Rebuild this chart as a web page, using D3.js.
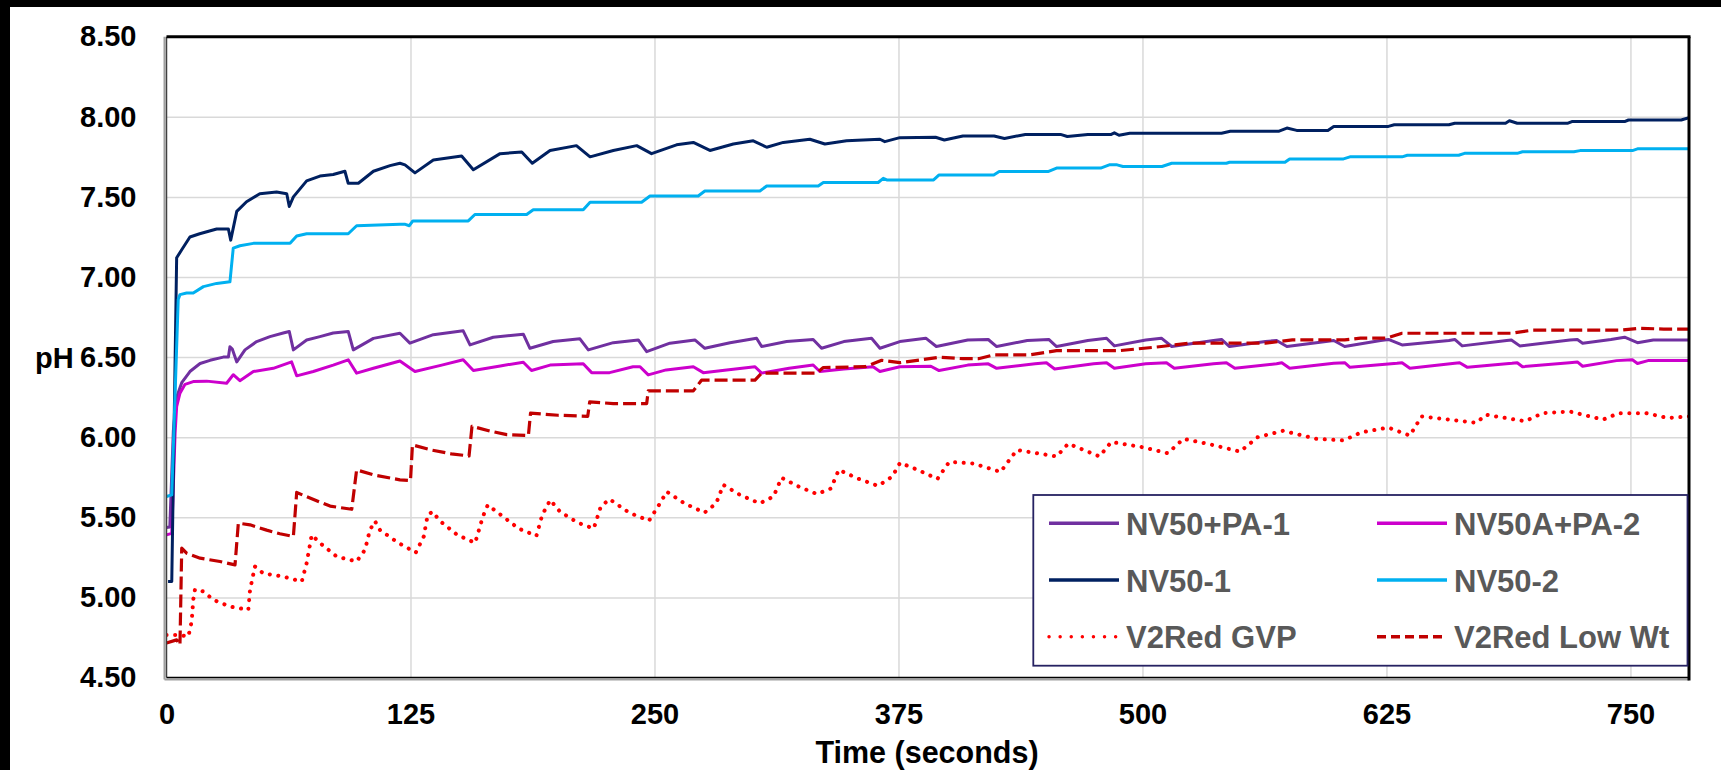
<!DOCTYPE html>
<html>
<head>
<meta charset="utf-8">
<script src="https://cdn.jsdelivr.net/npm/d3@7"></script>
<style>
  html, body { margin: 0; padding: 0; background: #fff; }
  svg { display: block; }
  text { font-family: "Liberation Sans", Arial, sans-serif; font-weight: bold; }
</style>
</head>
<body>
<svg id="chart" width="1721" height="770"></svg>
<script>
// ---------------- DATA ----------------
const xTicks = [0, 125, 250, 375, 500, 625, 750];
const yTicks = [4.5, 5.0, 5.5, 6.0, 6.5, 7.0, 7.5, 8.0, 8.5];
const seriesNames = ["NV50+PA-1", "NV50A+PA-2", "NV50-1", "NV50-2", "V2Red GVP", "V2Red Low Wt"];

// [time (s), pH]
const nv50pa1 = [
[0,5.436],[1.7,5.44],[3.5,6.04],[5.2,6.25],[7.8,6.34],[12,6.41],[17.2,6.46],[22.3,6.48],[29.1,6.50],[31.7,6.50],[32.5,6.565],[33.7,6.55],[36,6.47],[40.2,6.545],[46.2,6.597],[53,6.628],[59.8,6.65],[62.9,6.66],[65,6.545],[71.8,6.607],[78.6,6.628],[85.4,6.65],[93.1,6.66],[95.7,6.545],[106,6.617],[119.6,6.649],[124.7,6.587],[136.7,6.64],[152,6.664],[155.5,6.576],[167.4,6.624],[182.8,6.643],[186.2,6.555],[198.1,6.597],[211.8,6.614],[216.1,6.545],[228.9,6.59],[241.7,6.607],[246,6.534],[257.9,6.587],[270.7,6.607],[275.8,6.555],[288.7,6.59],[302.3,6.618],[304.9,6.566],[317.7,6.597],[331.3,6.61],[335.6,6.555],[347,6.597],[361.2,6.618],[365.5,6.555],[375.7,6.597],[389,6.618],[394.4,6.566],[410.5,6.607],[421,6.61],[425.3,6.566],[441,6.604],[452,6.61],[456,6.566],[472,6.604],[481.6,6.618],[485.6,6.57],[501.7,6.607],[509.7,6.618],[515,6.566],[536.4,6.604],[540.5,6.61],[544.6,6.566],[563,6.597],[568.7,6.604],[574,6.566],[598,6.604],[603.6,6.566],[622,6.604],[626,6.61],[633,6.576],[657,6.604],[660,6.61],[663.8,6.57],[686.6,6.604],[689,6.607],[693.3,6.57],[719,6.607],[722.8,6.61],[725.5,6.587],[740,6.61],[747,6.624],[753.6,6.59],[761.7,6.607],[780,6.607]
];
const nv50apa2 = [
[0,5.39],[2.7,5.40],[4.4,6.025],[5.2,6.19],[6.9,6.275],[9.5,6.33],[13.7,6.347],[20.6,6.35],[30.8,6.337],[34.2,6.39],[37.6,6.353],[44.5,6.41],[54.7,6.43],[64.1,6.47],[66.7,6.383],[75.2,6.41],[85.4,6.45],[93.1,6.483],[97.4,6.40],[106,6.43],[119.6,6.476],[127.3,6.41],[141,6.45],[152,6.483],[157.2,6.416],[171,6.445],[182.8,6.468],[187,6.416],[196.5,6.45],[213.5,6.458],[217.8,6.403],[227,6.403],[239,6.44],[242.6,6.44],[246.8,6.389],[256,6.42],[269.9,6.44],[275,6.403],[287,6.42],[301.5,6.44],[304.9,6.40],[319,6.43],[331.3,6.451],[334.7,6.41],[347,6.425],[362,6.44],[365.5,6.41],[375.7,6.44],[391.6,6.443],[395.8,6.416],[410.5,6.45],[421,6.458],[425.3,6.43],[445,6.458],[450.8,6.465],[455,6.426],[475,6.458],[481.6,6.465],[485.6,6.43],[501.7,6.458],[512.3,6.465],[516.3,6.43],[536.4,6.458],[543,6.465],[547.3,6.43],[568.7,6.458],[571.4,6.465],[575.4,6.43],[598,6.461],[603.6,6.465],[606.3,6.436],[630.4,6.461],[633,6.465],[637,6.43],[660,6.461],[662.5,6.465],[666.5,6.436],[689.3,6.461],[692,6.465],[694.7,6.44],[718.8,6.465],[722.8,6.47],[725.5,6.443],[742.9,6.478],[751,6.483],[753.6,6.46],[759,6.478],[780,6.478]
];
const nv50_1 = [
[0.8,5.10],[2.7,5.10],[5.2,7.12],[7.8,7.17],[12,7.25],[17,7.27],[25.7,7.30],[31.7,7.30],[32.9,7.23],[36,7.41],[41,7.47],[47.8,7.52],[56.4,7.53],[61.6,7.52],[62.9,7.44],[65,7.50],[71.8,7.60],[78.6,7.63],[85.4,7.64],[91.4,7.66],[93.1,7.585],[98.3,7.585],[106,7.66],[114.5,7.695],[119.6,7.71],[122.2,7.70],[127.3,7.65],[136.7,7.73],[151.2,7.755],[157.2,7.67],[170.9,7.77],[182,7.78],[187.4,7.71],[196.5,7.79],[210,7.82],[217,7.75],[228.9,7.79],[240.9,7.82],[248.5,7.77],[261.3,7.825],[269.9,7.84],[278.4,7.79],[290.4,7.83],[300.6,7.85],[307.5,7.81],[316,7.84],[329.6,7.86],[337.3,7.83],[348.4,7.85],[365.5,7.86],[368,7.845],[375.7,7.87],[394,7.872],[398.5,7.855],[408,7.88],[424,7.88],[429.3,7.865],[440,7.89],[458,7.89],[461.5,7.877],[472,7.89],[484,7.89],[485.6,7.90],[488,7.885],[493.5,7.897],[540.5,7.897],[545,7.91],[570,7.91],[574,7.93],[579,7.915],[595,7.915],[598,7.94],[626,7.94],[629,7.95],[657,7.95],[660,7.96],[686,7.96],[688,7.975],[692,7.96],[718,7.96],[720,7.97],[747,7.97],[749,7.98],[776,7.98],[780,7.995]
];
const nv50_2 = [
[0,5.63],[2.7,5.64],[6,6.86],[6.9,6.89],[10.3,6.90],[13.7,6.90],[18.9,6.94],[25.7,6.96],[32.5,6.97],[34.2,7.18],[37.6,7.195],[44.5,7.21],[63.3,7.21],[66.7,7.256],[71.8,7.27],[93.1,7.27],[97.4,7.32],[119.6,7.33],[122,7.33],[124.4,7.32],[126.2,7.35],[154.6,7.35],[158,7.39],[184.5,7.39],[187.9,7.42],[213.5,7.42],[217,7.467],[243.4,7.467],[247.7,7.506],[272.4,7.506],[275.8,7.537],[304,7.537],[307.5,7.568],[333.9,7.568],[336.5,7.59],[364.6,7.59],[367.2,7.616],[369,7.606],[393,7.606],[395.8,7.637],[423.8,7.637],[426.6,7.658],[451.6,7.658],[456,7.68],[478.6,7.68],[483,7.70],[487,7.70],[490,7.69],[510,7.69],[515,7.71],[543,7.71],[544.6,7.716],[573,7.716],[575.4,7.737],[603,7.737],[606.3,7.75],[633,7.75],[635.7,7.76],[662,7.76],[665,7.772],[692,7.772],[694.7,7.782],[721,7.782],[724.2,7.789],[751,7.789],[753.6,7.80],[780,7.80]
];
const v2redGVP = [
[0,4.765],[6.9,4.765],[11.2,4.756],[12.9,4.85],[13.7,4.985],[14.6,5.05],[18.9,5.037],[24,4.985],[32.5,4.943],[41.9,4.922],[42.8,5.047],[45.3,5.193],[49.6,5.15],[59.8,5.13],[69.3,5.099],[71.8,5.214],[74.4,5.39],[78.6,5.34],[87.2,5.255],[97.4,5.224],[101.7,5.297],[104.2,5.42],[106.8,5.476],[109.4,5.42],[118.8,5.34],[127.7,5.28],[131.8,5.38],[133.8,5.515],[136.4,5.535],[139.9,5.479],[149,5.39],[158.1,5.34],[162.1,5.505],[164.6,5.577],[171.3,5.515],[180.4,5.43],[189.5,5.384],[192.5,5.515],[196.6,5.608],[201.6,5.535],[210.7,5.466],[218.9,5.43],[222.5,5.567],[227,5.613],[237,5.529],[247.2,5.479],[252.3,5.577],[256.3,5.66],[265.4,5.587],[275.6,5.529],[281.6,5.587],[285.3,5.702],[293.8,5.64],[303.9,5.587],[311,5.63],[315.1,5.747],[324.2,5.69],[333.3,5.645],[340.4,5.68],[344.4,5.796],[354.6,5.74],[364.6,5.696],[371.8,5.754],[375.8,5.84],[384.9,5.796],[395,5.74],[401,5.846],[413.3,5.836],[427.4,5.783],[429.5,5.82],[435.6,5.92],[446,5.90],[456,5.88],[462,5.96],[478,5.88],[484,5.97],[499,5.94],[513,5.90],[521,5.99],[533,5.96],[550,5.91],[559,6.00],[572,6.04],[589,5.99],[603,5.98],[612,6.03],[626,6.06],[637,6.01],[643,6.13],[657,6.11],[671,6.09],[676,6.14],[696,6.10],[705,6.15],[719,6.16],[736,6.11],[744,6.15],[758,6.15],[769,6.12],[780,6.13]
];
const v2redLowWt = [
[0,4.715],[5.2,4.735],[6.9,4.704],[7.8,5.307],[10.3,5.276],[17.2,5.245],[27.4,5.224],[35.1,5.203],[36.8,5.463],[42.8,5.453],[51.3,5.42],[58.1,5.397],[65,5.38],[66.7,5.655],[73.5,5.62],[83.8,5.57],[94.9,5.55],[97.4,5.796],[106,5.765],[119.6,5.734],[125,5.73],[126,5.952],[135.8,5.92],[145.9,5.896],[155,5.883],[156.5,6.068],[166.2,6.037],[174.3,6.016],[185.4,6.01],[186.5,6.15],[200.6,6.137],[215.8,6.13],[216.8,6.22],[228.9,6.21],[246,6.21],[246.8,6.289],[269.9,6.289],[274.1,6.356],[301.5,6.356],[304.9,6.40],[333,6.40],[336.5,6.435],[358,6.44],[366.4,6.48],[375.7,6.465],[395.8,6.499],[408,6.49],[416,6.49],[424,6.514],[442,6.514],[456,6.54],[488,6.54],[509.7,6.566],[524,6.587],[563,6.587],[576.8,6.607],[603.6,6.607],[611.7,6.618],[625,6.618],[633,6.649],[689.3,6.649],[700,6.669],[745.6,6.669],[755,6.68],[767,6.675],[780,6.675]
];
const seriesValues = [nv50pa1, nv50apa2, nv50_1, nv50_2, v2redGVP, v2redLowWt];

// ---------------- STYLE ----------------
const seriesStyle = [
  { color: "#7030A0", dash: null, width: 3 },
  { color: "#CC00CC", dash: null, width: 3 },
  { color: "#002060", dash: null, width: 3 },
  { color: "#00B0F0", dash: null, width: 3 },
  { color: "#FF0000", dash: "0.1,8.5", legendDash: "0.1,11", cap: "round", width: 4 },
  { color: "#C00000", dash: "13,5", legendDash: "9,5", cap: "butt", width: 3.2 }
];

const W = 1721, H = 770;
const plot = { left: 166.5, right: 1689, top: 36.7, bottom: 677.5 };
const svg = d3.select("#chart");

// outer frame bands
svg.append("rect").attr("x", 0).attr("y", 0).attr("width", W).attr("height", 7).attr("fill", "#000");
svg.append("rect").attr("x", 0).attr("y", 0).attr("width", 10).attr("height", H).attr("fill", "#000");

const x = d3.scaleLinear().domain([0, 780]).range([plot.left, plot.right]);
const y = d3.scaleLinear().domain([4.5, 8.5]).range([plot.bottom, plot.top]);
const pw = plot.right - plot.left, ph = plot.bottom - plot.top;

// grid
const gx = svg.append("g").attr("transform", `translate(0,${plot.bottom})`)
  .call(d3.axisBottom(x).tickValues(xTicks.filter(d => d > 0)).tickSize(-ph).tickFormat(""));
gx.select(".domain").remove();
gx.selectAll("line").attr("stroke", "#D9D9D9").attr("stroke-width", 1.5);
const gy = svg.append("g").attr("transform", `translate(${plot.left},0)`)
  .call(d3.axisLeft(y).tickValues(yTicks.filter(d => d > 4.5 && d < 8.5)).tickSize(-pw).tickFormat(""));
gy.select(".domain").remove();
gy.selectAll("line").attr("stroke", "#D9D9D9").attr("stroke-width", 1.5);

// series
const line = d3.line().x(d => x(d[0])).y(d => y(d[1]));
svg.append("clipPath").attr("id", "clip").append("rect")
  .attr("x", plot.left).attr("y", plot.top).attr("width", pw).attr("height", ph);
const gLines = svg.append("g").attr("clip-path", "url(#clip)");
seriesValues.forEach((vals, i) => {
  const st = seriesStyle[i];
  gLines.append("path").datum(vals).attr("d", line)
    .attr("fill", "none").attr("stroke", st.color).attr("stroke-width", st.width)
    .attr("stroke-linejoin", "round")
    .attr("stroke-linecap", st.cap || "butt")
    .attr("stroke-dasharray", st.dash);
});

// plot border
svg.append("line").attr("x1", plot.left - 2).attr("x2", plot.left - 2).attr("y1", plot.top).attr("y2", plot.bottom + 2)
  .attr("stroke", "#A0A0A0").attr("stroke-width", 2);
svg.append("line").attr("x1", plot.left - 2).attr("x2", plot.right).attr("y1", plot.bottom + 2).attr("y2", plot.bottom + 2)
  .attr("stroke", "#A0A0A0").attr("stroke-width", 2);
svg.append("line").attr("x1", plot.left).attr("x2", plot.left).attr("y1", plot.top).attr("y2", plot.bottom)
  .attr("stroke", "#404040").attr("stroke-width", 1.5);
svg.append("line").attr("x1", plot.left).attr("x2", plot.right).attr("y1", plot.bottom).attr("y2", plot.bottom)
  .attr("stroke", "#000").attr("stroke-width", 1.5);
svg.append("line").attr("x1", plot.left).attr("x2", plot.right + 1.5).attr("y1", plot.top).attr("y2", plot.top)
  .attr("stroke", "#000").attr("stroke-width", 3);
svg.append("line").attr("x1", plot.right).attr("x2", plot.right).attr("y1", plot.top).attr("y2", plot.bottom + 3)
  .attr("stroke", "#000").attr("stroke-width", 3);

// axes labels
const ay = svg.append("g").attr("transform", `translate(${plot.left},0)`)
  .call(d3.axisLeft(y).tickValues(yTicks).tickSize(0).tickPadding(30).tickFormat(d => d.toFixed(2)));
ay.select(".domain").remove();
ay.selectAll("text").attr("font-size", 29).attr("fill", "#000")
  .attr("font-family", '"Liberation Sans", Arial, sans-serif').attr("font-weight", "bold");

const ax = svg.append("g").attr("transform", `translate(0,${plot.bottom})`)
  .call(d3.axisBottom(x).tickValues(xTicks).tickSize(0).tickPadding(25.5).tickFormat(d3.format("d")));
ax.select(".domain").remove();
ax.selectAll("text").attr("font-size", 29).attr("fill", "#000")
  .attr("font-family", '"Liberation Sans", Arial, sans-serif').attr("font-weight", "bold");

svg.append("text").attr("x", 927).attr("y", 763).attr("text-anchor", "middle")
  .attr("font-size", 30.5).attr("fill", "#000").text("Time (seconds)");
svg.append("text").attr("x", 35).attr("y", y(6.5) + 10.5).attr("text-anchor", "start")
  .attr("font-size", 29).attr("fill", "#000").text("pH");

// legend
const lg = { x0: 1033.3, y0: 495, x1: 1687.5, y1: 665.7 };
svg.append("rect").attr("x", lg.x0).attr("y", lg.y0).attr("width", lg.x1 - lg.x0).attr("height", lg.y1 - lg.y0)
  .attr("fill", "#fff").attr("stroke", "#262262").attr("stroke-width", 1.8);
const rowY = [523.3, 580, 636.7];
const colX = [1049, 1377];
seriesNames.forEach((name, i) => {
  const col = i % 2, row = Math.floor(i / 2);
  const st = seriesStyle[i];
  const lx = colX[col], ly = rowY[row];
  svg.append("line").attr("x1", lx).attr("x2", lx + 70).attr("y1", ly).attr("y2", ly)
    .attr("stroke", st.color).attr("stroke-width", 3.4)
    .attr("stroke-linecap", st.cap || "butt")
    .attr("stroke-dasharray", st.legendDash || null);
  svg.append("text").attr("x", lx + 77).attr("y", ly + 11.5)
    .attr("font-size", 31).attr("fill", "#595959").text(name);
});
</script>
</body>
</html>
